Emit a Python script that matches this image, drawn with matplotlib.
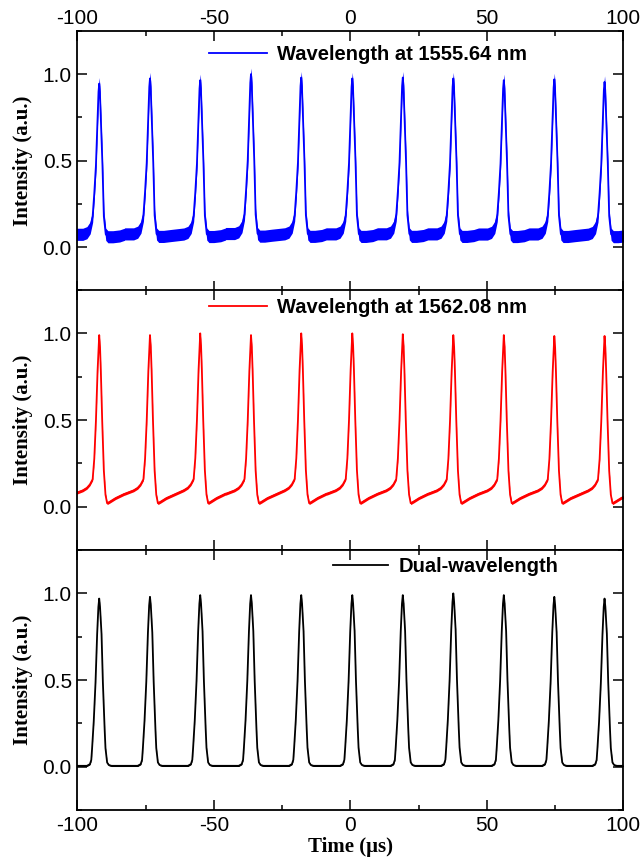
"""
Pulse trains: two single wavelengths and dual-wavelength operation
"""

import numpy as np
import matplotlib
matplotlib.use("Agg")
import matplotlib.pyplot as plt
from matplotlib.ticker import MultipleLocator, FormatStrFormatter


# ---------- Data ----------
peak_times = [-92.0, -73.4, -55.0, -36.4, -18.0, 0.7, 19.2, 37.7, 56.2, 74.7, 93.1]

blue_heights = [0.945, 0.975, 0.965, 1.0, 0.98, 0.975, 0.98, 0.975, 0.965, 0.97, 0.955]
red_heights = [0.99, 0.99, 1.0, 0.99, 1.0, 1.0, 0.995, 0.99, 0.99, 0.985, 0.985]
black_heights = [0.97, 0.98, 0.99, 0.99, 0.99, 0.99, 0.99, 1.0, 0.99, 0.98, 0.97]

# one period around a peak: offset from the peak (us) and relative intensity
blue_offsets = [-9.25, -6.0, -4.5, -3.3, -2.4, -1.8, -1.2, -0.6, -0.25, 0.0,
                0.25, 0.6, 1.2, 1.7, 2.4, 3.2, 5.0, 7.5, 9.25]
blue_shape = [0.08, 0.08, 0.09, 0.12, 0.19, 0.33, 0.5, 0.79, 0.95, 1.0,
              0.95, 0.79, 0.5, 0.19, 0.08, 0.065, 0.065, 0.07, 0.08]
blue_noise = 0.035

red_offsets = [-9.25, -6.0, -4.5, -3.4, -2.4, -1.8, -1.2, -0.6, 0.0,
               0.3, 0.6, 1.1, 1.7, 2.3, 2.9, 4.0, 6.0, 9.25]
red_shape = [0.075, 0.095, 0.11, 0.13, 0.16, 0.28, 0.5, 0.79, 1.0,
             0.93, 0.79, 0.5, 0.21, 0.07, 0.02, 0.03, 0.05, 0.075]
red_noise = 0.008

black_offsets = [-9.25, -4.5, -3.4, -2.9, -2.6, -2.0, -1.35, -0.75, -0.3, 0.0,
                 0.3, 0.85, 1.35, 2.0, 2.3, 2.9, 3.5, 4.5, 9.25]
black_shape = [0.005, 0.005, 0.015, 0.04, 0.11, 0.27, 0.5, 0.79, 0.95, 1.0,
               0.95, 0.79, 0.5, 0.22, 0.11, 0.025, 0.01, 0.005, 0.005]
black_noise = 0.004

labels = ["Wavelength at 1555.64 nm", "Wavelength at 1562.08 nm", "Dual-wavelength"]
colors = ["#0000ff", "#ff0000", "#000000"]
x_ticks = [-100, -50, 0, 50, 100]
y_ticks = [0.0, 0.5, 1.0]


# ---------- Helpers ----------
def build_trace(times, heights, offsets, shape):
    """Chain one pulse profile per peak, each kept inside its own period."""
    offsets = np.asarray(offsets, dtype=float)
    shape = np.asarray(shape, dtype=float)
    mids = [(a + b) / 2 for a, b in zip(times[:-1], times[1:])]
    edges = [-np.inf] + mids + [np.inf]
    t_all, y_all = [], []
    for i, (tp, h) in enumerate(zip(times, heights)):
        t = tp + offsets
        keep = (t >= edges[i]) & (t < edges[i + 1])
        t_all.append(t[keep])
        y_all.append(h * shape[keep])
    return np.concatenate(t_all), np.concatenate(y_all)


def style_axis(ax):
    ax.set_xlim(-100, 100)
    ax.set_ylim(-0.25, 1.25)
    ax.set_xticks(x_ticks)
    ax.xaxis.set_minor_locator(MultipleLocator(25))
    ax.set_yticks(y_ticks)
    ax.yaxis.set_minor_locator(MultipleLocator(0.25))
    ax.yaxis.set_major_formatter(FormatStrFormatter("%.1f"))
    ax.tick_params(which="both", direction="in", top=True, right=True,
                   width=1.1, labelsize=15, pad=4)
    ax.tick_params(which="major", length=7)
    ax.tick_params(which="minor", length=3.6)
    for sp in ax.spines.values():
        sp.set_linewidth(1.3)
    ax.set_ylabel("Intensity (a.u.)", family="Liberation Serif",
                  fontweight="bold", fontsize=15, labelpad=7)


# ---------- Plot ----------
plt.rcParams["font.family"] = ["Liberation Sans", "DejaVu Sans"]
plt.rcParams["axes.unicode_minus"] = False

fig = plt.figure(figsize=(6.42, 8.64), dpi=100)
left, width, height = 0.1205, 0.8505, 0.3009
bottoms = [0.6635, 0.3634, 0.0625]
legend_pos = [(0.241, 0.91), (0.241, 0.931), (0.468, 0.935)]
handle_len = [2.9, 2.9, 2.75]

traces = [
    (blue_heights, blue_offsets, blue_shape, blue_noise),
    (red_heights, red_offsets, red_shape, red_noise),
    (black_heights, black_offsets, black_shape, black_noise),
]

for k, (heights, offs, shape, noise) in enumerate(traces):
    ax = fig.add_axes([left, bottoms[k], width, height])
    t, y = build_trace(peak_times, heights, offs, shape)
    ax.fill_between(t, y - noise, y + noise, color=colors[k], lw=0)
    line, = ax.plot(t, y, color=colors[k], lw=1.3, label=labels[k])
    style_axis(ax)
    if k == 0:
        ax.tick_params(axis="x", labeltop=True, labelbottom=False, pad=2)
    elif k == 1:
        ax.tick_params(axis="x", labelbottom=False)
    else:
        ax.set_xlabel("Time (\u03bcs)", family="Liberation Serif",
                      fontweight="bold", fontsize=15, labelpad=2)
    ax.legend(handles=[line], loc="center left", bbox_to_anchor=legend_pos[k],
              frameon=False, borderpad=0, borderaxespad=0,
              handlelength=handle_len[k], handletextpad=0.5,
              prop={"family": "Liberation Sans", "weight": "bold", "size": 14.5})

fig.savefig("out.png", dpi=100)
plt.close(fig)
